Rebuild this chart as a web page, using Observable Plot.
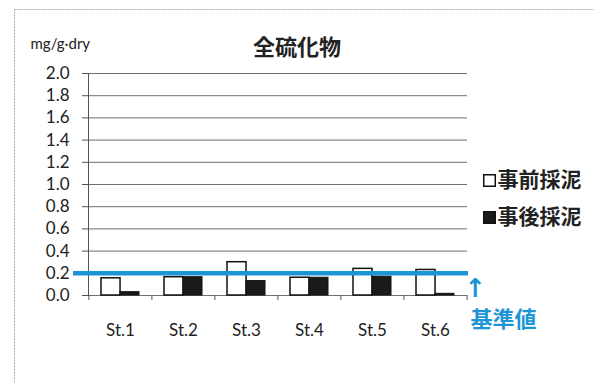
<!DOCTYPE html>
<html>
<head>
<meta charset="utf-8">
<script src="https://cdn.jsdelivr.net/npm/d3@7"></script>
<script src="https://cdn.jsdelivr.net/npm/@observablehq/plot@0.6"></script>
<style>
  html, body { margin: 0; padding: 0; background: #fff; }
  #chart svg { display: block; }
</style>
</head>
<body>
<div id="chart"></div>
<script>
// Total sulfide per station, before and after sediment sampling (mg/g·dry)
const stations = ["St.1", "St.2", "St.3", "St.4", "St.5", "St.6"];
const beforeValues = [0.155, 0.165, 0.30, 0.16, 0.24, 0.23];
const afterValues = [0.03, 0.165, 0.13, 0.16, 0.17, 0.015];
const seriesNames = ["事前採泥", "事後採泥"];
const yTicks = [0, 0.2, 0.4, 0.6, 0.8, 1.0, 1.2, 1.4, 1.6, 1.8, 2.0];
const standardValue = 0.2;
const titleText = "全硫化物";
const unitText = "mg/g·dry";
const standardText = "基準値";

const rows = stations.map((s, i) => ({station: s, before: beforeValues[i], after: afterValues[i]}));

const W = 594, H = 382;
const mL = 88, mR = 127, mT = 73, mB = 87;
const frameW = W - mL - mR;
const frameH = H - mT - mB;
const step = frameW / stations.length;
const halfBand = (step * 0.6) / 2;

const blue = "#1c95d6";
const latin = "Lato, 'Noto Sans', sans-serif";
const cjk = "'Noto Sans CJK JP', sans-serif";

const chart = Plot.plot({
  width: W,
  height: H,
  marginLeft: mL,
  marginRight: mR,
  marginTop: mT,
  marginBottom: mB,
  style: {background: "#fff", fontFamily: latin, color: "#222"},
  x: {domain: stations, paddingInner: 0.4, paddingOuter: 0.2, align: 0.5},
  y: {domain: [0, 2]},
  marks: [
    // outer chart border
    Plot.frame({stroke: "#aaa", strokeDasharray: "2,1", insetLeft: -74, insetTop: -64, insetRight: -140, insetBottom: -110}),
    Plot.gridY(yTicks, {stroke: "#707070", strokeOpacity: 1}),
    Plot.frame({anchor: "left", stroke: "#555"}),
    Plot.axisY(yTicks, {tickFormat: d => d.toFixed(1), tickSize: 6, tickPadding: 13, fontSize: 17, stroke: "#555", label: null}),
    Plot.axisX({tickSize: 0, tickPadding: 28, fontSize: 17, label: null}),
    // category boundary ticks
    Plot.ruleX(stations, {x: d => d, dx: -step / 2, stroke: "#555", insetTop: frameH, insetBottom: -5}),
    Plot.ruleX(stations.slice(-1), {x: d => d, dx: step / 2, stroke: "#555", insetTop: frameH, insetBottom: -5}),
    Plot.barY(rows, {x: "station", y: "before", fill: "#fff", stroke: "#111", strokeWidth: 1.5, insetLeft: 0, insetRight: halfBand}),
    Plot.barY(rows, {x: "station", y: "after", fill: "#1a1a1a", stroke: "#111", strokeWidth: 1, insetLeft: halfBand, insetRight: 0}),
    // standard value line
    Plot.ruleY([standardValue], {stroke: blue, strokeWidth: 4.5, insetLeft: -15, insetRight: -1}),
    Plot.text(["↑"], {frameAnchor: "bottom-right", dx: 8, dy: -7, textAnchor: "middle", lineAnchor: "middle", fill: blue, fontSize: 26, fontWeight: "bold", fontFamily: "'DejaVu Sans', sans-serif"}),
    Plot.text([standardText], {frameAnchor: "bottom-right", dx: 36, dy: 24, textAnchor: "middle", lineAnchor: "middle", fill: blue, fontSize: 22, fontWeight: "bold", fontFamily: cjk}),
    // title and unit
    Plot.text([titleText], {frameAnchor: "top", dx: 19, dy: -26, textAnchor: "middle", lineAnchor: "middle", fontSize: 22, fontWeight: "bold", fontFamily: cjk, fill: "#222"}),
    Plot.text([unitText], {frameAnchor: "top-left", dx: -58, dy: -29, textAnchor: "start", lineAnchor: "middle", fontSize: 15, fill: "#222"}),
    // legend
    Plot.dot([seriesNames[0]], {frameAnchor: "top-right", dx: 22, dy: 107, symbol: "square", r: 6.5, fill: "#fff", stroke: "#111", strokeWidth: 1.5}),
    Plot.dot([seriesNames[1]], {frameAnchor: "top-right", dx: 22, dy: 144, symbol: "square", r: 6.5, fill: "#1a1a1a", stroke: "#111"}),
    Plot.text([seriesNames[0]], {text: d => d, frameAnchor: "top-right", dx: 30, dy: 107, textAnchor: "start", lineAnchor: "middle", fontSize: 21, fontWeight: "bold", fontFamily: cjk, fill: "#222"}),
    Plot.text([seriesNames[1]], {text: d => d, frameAnchor: "top-right", dx: 30, dy: 144, textAnchor: "start", lineAnchor: "middle", fontSize: 21, fontWeight: "bold", fontFamily: cjk, fill: "#222"})
  ]
});

document.getElementById("chart").append(chart);
</script>
</body>
</html>
